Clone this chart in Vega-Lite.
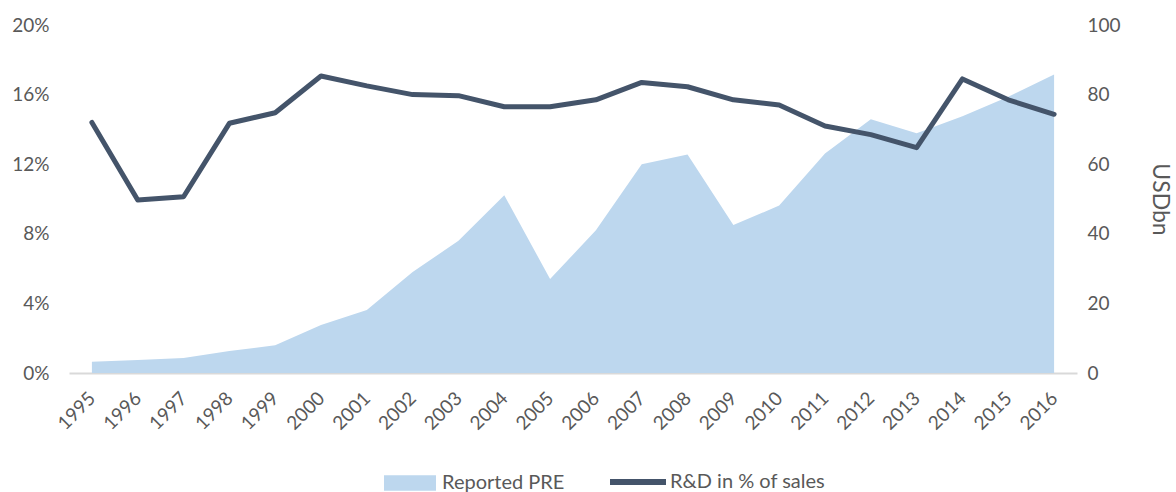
{
  "$schema": "https://vega.github.io/schema/vega-lite/v6.json",
  "autosize": "none",
  "width": 1008,
  "height": 348,
  "padding": {"left": 69, "top": 25, "right": 99, "bottom": 119},
  "background": "white",
  "config": {
    "view": {"stroke": null},
    "font": "Lato",
    "axis": {"labelFont": "Lato", "titleFont": "Lato", "labelColor": "#595959", "titleColor": "#595959", "grid": false, "labelFontSize": 19, "titleFontSize": 23, "titleFontWeight": "normal"},
    "legend": {"labelFont": "Lato", "labelColor": "#595959", "labelFontSize": 20, "padding": 0}
  },
  "data": {
    "values": [
      {"year": "1995", "pre": 3.2, "rd": 14.4},
      {"year": "1996", "pre": 3.7, "rd": 9.94},
      {"year": "1997", "pre": 4.3, "rd": 10.13},
      {"year": "1998", "pre": 6.3, "rd": 14.35},
      {"year": "1999", "pre": 8.0, "rd": 14.96},
      {"year": "2000", "pre": 13.8, "rd": 17.07},
      {"year": "2001", "pre": 18.1, "rd": 16.5},
      {"year": "2002", "pre": 29.0, "rd": 16.0},
      {"year": "2003", "pre": 38.0, "rd": 15.94},
      {"year": "2004", "pre": 51.1, "rd": 15.3},
      {"year": "2005", "pre": 27.0, "rd": 15.3},
      {"year": "2006", "pre": 41.0, "rd": 15.7},
      {"year": "2007", "pre": 60.0, "rd": 16.7},
      {"year": "2008", "pre": 62.8, "rd": 16.45},
      {"year": "2009", "pre": 42.5, "rd": 15.7},
      {"year": "2010", "pre": 48.1, "rd": 15.4},
      {"year": "2011", "pre": 63.1, "rd": 14.2},
      {"year": "2012", "pre": 72.9, "rd": 13.7},
      {"year": "2013", "pre": 68.9, "rd": 12.95},
      {"year": "2014", "pre": 73.8, "rd": 16.9},
      {"year": "2015", "pre": 79.4, "rd": 15.7},
      {"year": "2016", "pre": 85.8, "rd": 14.87}
    ]
  },
  "encoding": {
    "x": {
      "field": "year",
      "type": "ordinal",
      "scale": {"type": "point", "padding": 0.5},
      "axis": {
        "title": null,
        "labelAngle": -45,
        "labelAlign": "right",
        "labelBaseline": "middle",
        "labelPadding": 22,
        "domainColor": "#D9D9D9",
        "domainWidth": 2,
        "ticks": false
      }
    }
  },
  "layer": [
    {
      "mark": {"type": "area", "opacity": 1},
      "encoding": {
        "y": {
          "field": "pre",
          "type": "quantitative",
          "scale": {"domain": [0, 100]},
          "axis": {"orient": "right", "title": "USDbn", "values": [0, 20, 40, 60, 80, 100], "domain": false, "ticks": false, "labelPadding": 10, "titlePadding": 27}
        },
        "fill": {
          "datum": "Reported PRE",
          "type": "nominal",
          "scale": {"range": ["#BDD7EE"]},
          "legend": {"orient": "none", "legendX": 315, "legendY": 432, "title": null, "symbolType": "M-1,-0.3H1V0.3H-1Z", "symbolSize": 2704, "symbolStrokeWidth": 0, "labelOffset": 6}
        }
      }
    },
    {
      "mark": {"type": "line", "strokeWidth": 5, "strokeCap": "round", "strokeJoin": "round"},
      "encoding": {
        "y": {
          "field": "rd",
          "type": "quantitative",
          "scale": {"domain": [0, 20]},
          "axis": {"orient": "left", "title": null, "values": [0, 4, 8, 12, 16, 20], "labelExpr": "datum.value + '%'", "domain": false, "ticks": false, "labelPadding": 20}
        },
        "stroke": {
          "datum": "R&D in % of sales",
          "type": "nominal",
          "scale": {"range": ["#44546A"]},
          "legend": {"orient": "none", "legendX": 538, "legendY": 426, "title": null, "symbolType": "stroke", "symbolSize": 3136, "symbolStrokeWidth": 6, "labelOffset": 1}
        }
      }
    }
  ],
  "resolve": {"scale": {"y": "independent"}}
}
